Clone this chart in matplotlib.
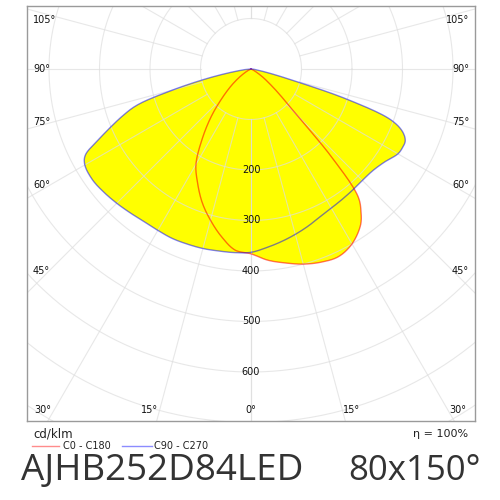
import numpy as np
import matplotlib
matplotlib.use("Agg")
import matplotlib.pyplot as plt
from matplotlib.lines import Line2D

# luminous intensity (cd/klm) vs gamma angle (deg), one list per half-plane
gamma_c0 = [0, 5, 10, 15, 20, 25, 30, 35, 37.5, 40, 42.5, 45, 47.5, 50, 55, 60, 65, 70, 90]
int_c0 = [366, 380, 390, 400, 407, 410, 400, 378, 358, 330, 235, 125, 85, 60, 30, 12, 4, 0, 0]

gamma_c180 = [0, 5, 10, 15, 20, 25, 30, 35, 40, 45, 50, 55, 60, 65, 70, 90]
int_c180 = [366, 360, 337, 310, 282, 250, 218, 168, 122, 80, 50, 27, 12, 4, 0, 0]

gamma_c90 = [0, 5, 10, 15, 20, 25, 30, 35, 40, 45, 50, 55, 60, 62.5, 65, 67.5, 70, 72.5, 75, 77.5, 80, 85, 90]
int_c90 = [362, 355, 347, 339, 331, 323, 318, 315, 313, 312, 314, 322, 336, 338, 337, 325, 295, 200, 80, 35, 15, 5, 0]

gamma_c270 = [0, 5, 10, 15, 20, 25, 30, 35, 40, 45, 50, 55, 60, 62.5, 65, 70, 72.5, 75, 77.5, 80, 85, 90]
int_c270 = [363, 365, 366, 368, 369, 370, 369, 369, 372, 376, 380, 383, 380, 370, 335, 270, 235, 160, 95, 48, 10, 0]

ring_values = [100, 200, 300, 400, 500, 600, 700, 800, 900]
ring_labels = [200, 300, 400, 500, 600]
spoke_angles = np.arange(0, 181, 15)

# geometry of the diagram (pixels of the 500x500 image)
S = 0.505            # px per cd/klm
CX, CY = 251, 69     # luminaire position
L, R, T, B = 27, 475, 6, 421


def px2d(xp, yp):
    return (xp - CX) / S, (CY - yp) / S


def half(gam, val, side):
    g = np.radians(gam)
    v = np.array(val, dtype=float)
    return side * v * np.sin(g), -v * np.cos(g)


def smooth(x, y, n=12):
    # centripetal catmull-rom through the measured points
    P = np.c_[x, y]
    keep = np.r_[True, np.hypot(*np.diff(P, axis=0).T) > 1e-6]
    P = P[keep]
    P = np.vstack([2 * P[0] - P[1], P, 2 * P[-1] - P[-2]])
    out = []
    for i in range(1, len(P) - 2):
        p0, p1, p2, p3 = P[i - 1], P[i], P[i + 1], P[i + 2]
        t0 = 0.0
        t1 = t0 + np.linalg.norm(p1 - p0) ** 0.5
        t2 = t1 + np.linalg.norm(p2 - p1) ** 0.5
        t3 = t2 + np.linalg.norm(p3 - p2) ** 0.5
        for t in np.linspace(t1, t2, n, endpoint=False):
            a1 = (t1 - t) / (t1 - t0) * p0 + (t - t0) / (t1 - t0) * p1
            a2 = (t2 - t) / (t2 - t1) * p1 + (t - t1) / (t2 - t1) * p2
            a3 = (t3 - t) / (t3 - t2) * p2 + (t - t2) / (t3 - t2) * p3
            b1 = (t2 - t) / (t2 - t0) * a1 + (t - t0) / (t2 - t0) * a2
            b2 = (t3 - t) / (t3 - t1) * a2 + (t - t1) / (t3 - t1) * a3
            out.append((t2 - t) / (t2 - t1) * b1 + (t - t1) / (t2 - t1) * b2)
    out.append(P[-2])
    out = np.array(out)
    return out[:, 0], out[:, 1]


def curve(gl, vl, gr, vr):
    xl, yl = half(gl, vl, -1)
    xr, yr = half(gr, vr, 1)
    return smooth(np.r_[xl[::-1], xr[1:]], np.r_[yl[::-1], yr[1:]])


fig = plt.figure(figsize=(5, 5), dpi=100)
ax = fig.add_axes([L / 500, 1 - B / 500, (R - L) / 500, (B - T) / 500])
x0, y0 = px2d(L, B)
x1, y1 = px2d(R, T)
ax.set_xlim(x0, x1)
ax.set_ylim(y0, y1)
ax.set_xticks([])
ax.set_yticks([])
for sp in ax.spines.values():
    sp.set_color("#9a9a9a")
    sp.set_linewidth(1.0)

red_x, red_y = curve(gamma_c180, int_c180, gamma_c0, int_c0)
blue_x, blue_y = curve(gamma_c270, int_c270, gamma_c90, int_c90)

ax.fill(red_x, red_y, color="#ffff00", lw=0, zorder=1)
ax.fill(blue_x, blue_y, color="#ffff00", lw=0, zorder=1)

# polar grid
grid_kw = dict(color="#dedede", alpha=0.7, lw=0.8, zorder=2)
t = np.linspace(0, 2 * np.pi, 400)
for rv in ring_values:
    ax.plot(rv * np.cos(t), rv * np.sin(t), **grid_kw)
for a in spoke_angles:
    g = np.radians(a)
    for side in (-1, 1):
        ax.plot([side * 100 * np.sin(g), side * 1200 * np.sin(g)],
                [-100 * np.cos(g), -1200 * np.cos(g)], **grid_kw)

ax.plot(red_x, red_y, color="red", alpha=0.55, lw=1.0, zorder=3)
ax.plot(blue_x, blue_y, color="blue", alpha=0.5, lw=1.0, zorder=3)

for rv in ring_labels:
    ax.text(0, -rv, str(rv), ha="center", va="center", fontsize=7,
            color="#111111", zorder=4)

# angle labels around the frame
side_labels = [("105°", 20), ("90°", 69), ("75°", 122), ("60°", 185), ("45°", 271)]
for lab, yp in side_labels:
    ax.text(*px2d(33, yp), lab, ha="left", va="center", fontsize=7, color="#111111")
    ax.text(*px2d(469, yp), lab, ha="right", va="center", fontsize=7, color="#111111")
bottom_labels = [("30°", 43), ("15°", 150), ("0°", 251), ("15°", 352), ("30°", 458)]
for lab, xp in bottom_labels:
    ax.text(*px2d(xp, 410), lab, ha="center", va="center", fontsize=7, color="#111111")


# texts below the diagram
def ft(xp, yp, s, **kw):
    fig.text(xp / 500, 1 - yp / 500, s, **kw)


ft(33, 434, "cd/klm", ha="left", va="center", fontsize=8.5, color="#222222")
ft(468, 434, "η = 100%", ha="right", va="center", fontsize=8, color="#222222")

fig.add_artist(Line2D([32 / 500, 59 / 500], [1 - 446 / 500] * 2, color="red",
                      alpha=0.45, lw=1.0, transform=fig.transFigure))
ft(63, 446, "C0 - C180", ha="left", va="center", fontsize=7, color="#222222")
fig.add_artist(Line2D([122 / 500, 152 / 500], [1 - 446 / 500] * 2, color="blue",
                      alpha=0.45, lw=1.0, transform=fig.transFigure))
ft(154, 446, "C90 - C270", ha="left", va="center", fontsize=7, color="#222222")

ft(21, 471, "AJHB252D84LED", ha="left", va="center", fontsize=26.5,
   family="Open Sans", color="#333333")
ft(481, 471, "80x150°", ha="right", va="center", fontsize=25,
   family="Open Sans", color="#333333")

fig.savefig("out.png", dpi=100, facecolor="white")
